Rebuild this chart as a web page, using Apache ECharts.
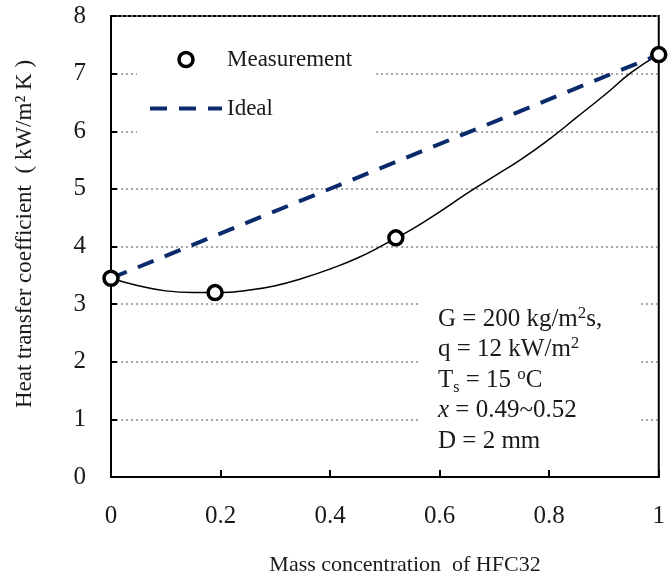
<!DOCTYPE html>
<html>
<head>
<meta charset="utf-8">
<script src="https://cdn.jsdelivr.net/npm/echarts@6/dist/echarts.min.js"></script>
<style>
html,body{margin:0;padding:0;background:#fff;}
#chart{width:668px;height:585px;}
</style>
</head>
<body>
<div id="chart"></div>
<script>
// Measured points
const measX = [0, 0.19, 0.52, 1.0];
const measY = [3.45, 3.20, 4.15, 7.33];
// Fitted curve
const fitX = [0, 0.05, 0.1, 0.15, 0.2, 0.25, 0.3, 0.35, 0.4, 0.45, 0.5, 0.55, 0.6, 0.65, 0.7, 0.75, 0.8, 0.85, 0.9, 0.95, 1.0];
const fitY = [3.45, 3.32, 3.23, 3.20, 3.20, 3.24, 3.32, 3.45, 3.61, 3.80, 4.04, 4.30, 4.60, 4.92, 5.22, 5.52, 5.86, 6.24, 6.62, 7.02, 7.33];
// Ideal line
const idealX = [0, 1.0];
const idealY = [3.45, 7.33];

const xRange = [0, 1];
const yRange = [0, 8];

const FONT = "'Liberation Serif', 'Times New Roman', serif";
const NAVY = '#0b2a6b';
const zip = (a, b) => a.map((v, i) => [v, b[i]]);

const chart = echarts.init(document.getElementById('chart'));
chart.setOption({
  animation: false,
  backgroundColor: '#fff',
  grid: { left: 111, right: 9, top: 16, bottom: 108, show: true, borderColor: '#000', borderWidth: 2, backgroundColor: 'transparent' },
  xAxis: {
    type: 'value', min: xRange[0], max: xRange[1], interval: 0.2,
    axisLine: { show: true, lineStyle: { color: '#000', width: 2 } },
    axisTick: { show: true, inside: true, length: 7, lineStyle: { color: '#000', width: 2 } },
    axisLabel: { margin: 27, fontFamily: FONT, fontSize: 25, color: '#1a1a1a',
      formatter: v => String(Math.round(v * 10) / 10) },
    splitLine: { show: false }
  },
  yAxis: {
    type: 'value', min: yRange[0], max: yRange[1], interval: 1,
    axisLine: { show: true, lineStyle: { color: '#000', width: 2 } },
    axisTick: { show: true, inside: true, length: 6, lineStyle: { color: '#000', width: 2 } },
    axisLabel: { margin: 25, fontFamily: FONT, fontSize: 25, color: '#1a1a1a' },
    splitLine: { show: true, lineStyle: { color: '#8a8a8a', width: 1.5, type: [2, 3] } }
  },
  legend: {
    data: [
      { name: 'Measurement', itemStyle: { color: '#fff', borderColor: '#000', borderWidth: 3.5 } },
      { name: 'Ideal', itemStyle: { opacity: 0 }, lineStyle: { color: NAVY, width: 4, type: [17, 12], opacity: 1 } }
    ],
    orient: 'vertical', left: 137, top: 38,
    itemWidth: 72, itemHeight: 14, itemGap: 26,
    padding: [10, 24, 16, 11],
    backgroundColor: '#fff',
    textStyle: { fontFamily: FONT, fontSize: 23, color: '#1a1a1a' }
  },
  series: [
    {
      name: 'Fit', type: 'line', data: zip(fitX, fitY), smooth: true,
      showSymbol: false, symbol: 'none',
      lineStyle: { color: '#000', width: 1.5 }, z: 2
    },
    {
      name: 'Ideal', type: 'line', data: zip(idealX, idealY),
      showSymbol: false, symbol: 'none',
      lineStyle: { color: NAVY, width: 4, type: [17, 12], cap: 'butt' },
      itemStyle: { color: NAVY }, z: 3
    },
    {
      name: 'Measurement', type: 'scatter', data: zip(measX, measY),
      symbol: 'circle', symbolSize: 14,
      itemStyle: { color: '#fff', borderColor: '#000', borderWidth: 3.5, opacity: 1 }, z: 5
    }
  ],
  graphic: [
    {
      type: 'text', x: 25, y: 234, rotation: Math.PI / 2,
      style: {
        text: 'Heat transfer coefficient  ( kW/m² K )',
        font: "23px 'Liberation Serif', 'Times New Roman', serif",
        fill: '#1a1a1a', align: 'center', verticalAlign: 'middle'
      }
    },
    {
      type: 'text', x: 405, y: 565,
      style: {
        text: 'Mass concentration  of HFC32',
        font: "22px 'Liberation Serif', 'Times New Roman', serif",
        fill: '#1a1a1a', align: 'center', verticalAlign: 'middle'
      }
    },
    {
      type: 'text', x: 418, y: 298, z: 10,
      style: {
        text: 'G = 200 kg/m{sup|2}s,\nq = 12 kW/m{sup|2}\nT{sub|s} = 15 {sup|o}C\n{i|x} = 0.49~0.52\nD = 2 mm',
        font: "25px 'Liberation Serif', 'Times New Roman', serif",
        fill: '#1a1a1a', lineHeight: 30.5,
        backgroundColor: '#fff', padding: [6, 36, 8, 20],
        rich: {
          sup: { fontSize: 17, fontFamily: FONT, verticalAlign: 'top', lineHeight: 30.5, padding: [1, 0, 0, 0] },
          sub: { fontSize: 16, fontFamily: FONT, verticalAlign: 'bottom', lineHeight: 30.5 },
          i: { fontSize: 25, fontFamily: FONT, fontStyle: 'italic', lineHeight: 30.5 }
        }
      }
    }
  ]
});
</script>
</body>
</html>
